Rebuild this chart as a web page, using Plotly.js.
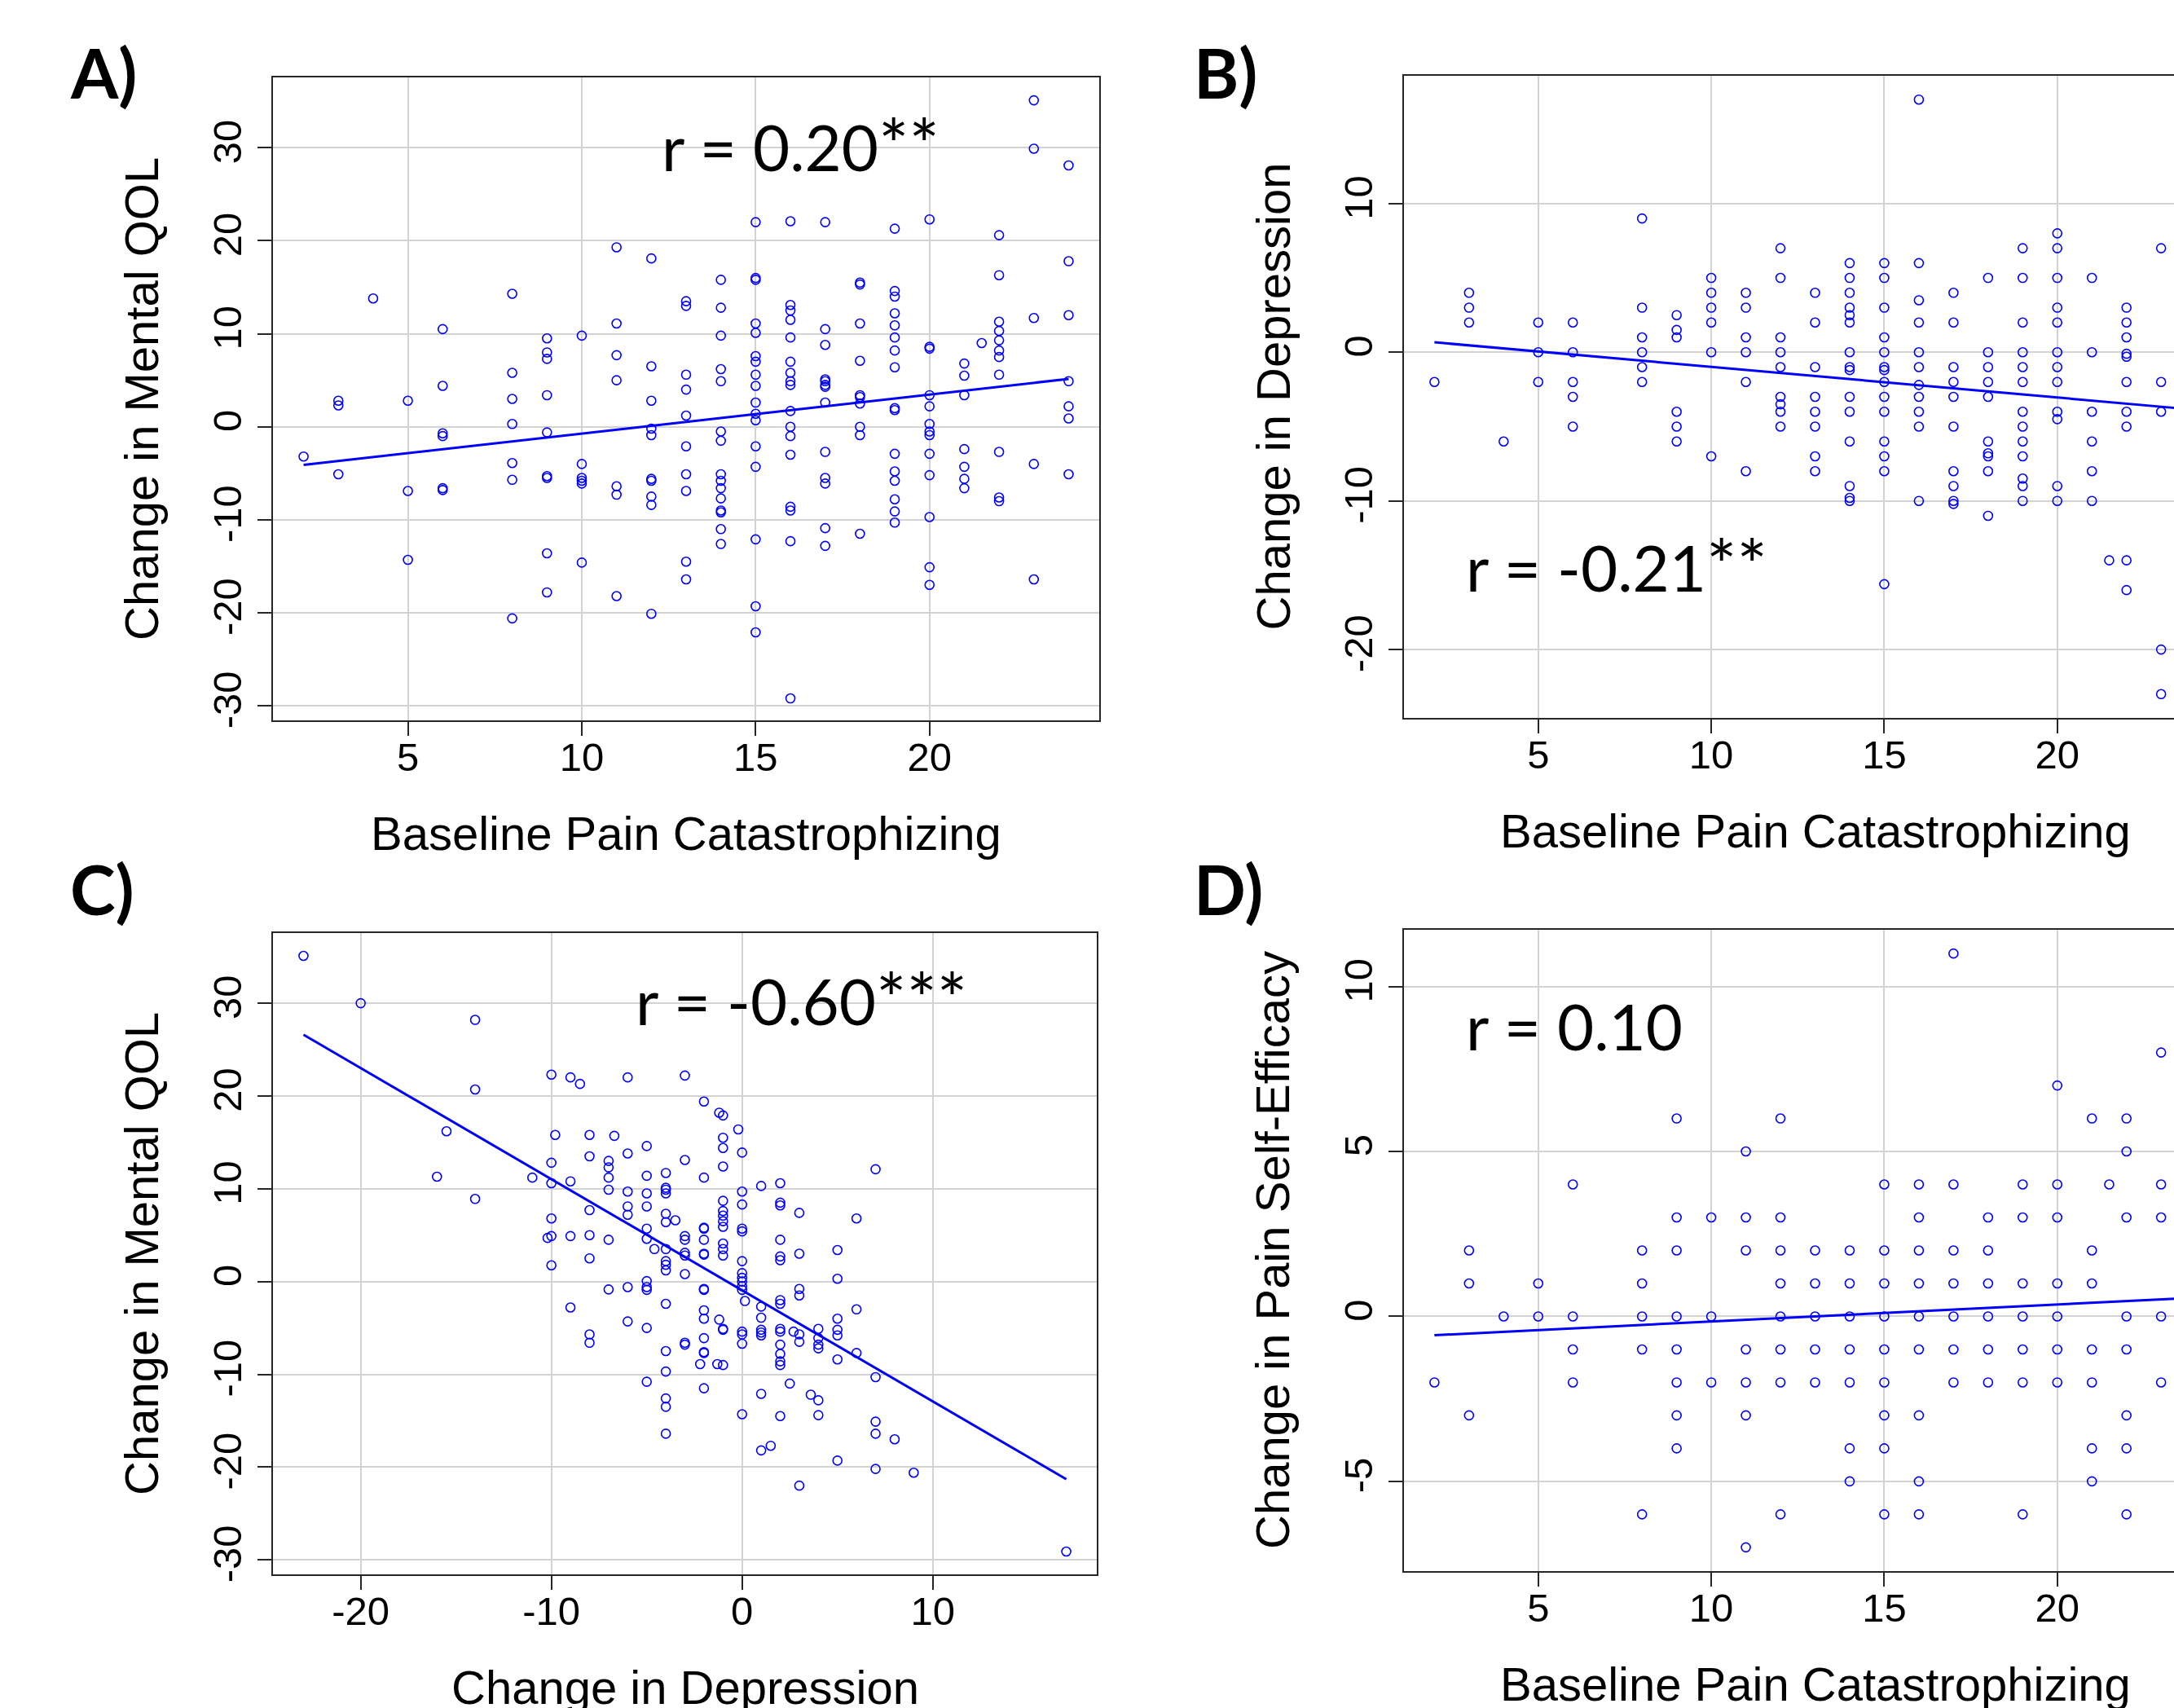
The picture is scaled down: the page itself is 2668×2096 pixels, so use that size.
<!DOCTYPE html>
<html>
<head>
<meta charset="utf-8">
<script src="https://cdn.plot.ly/plotly-3.0.1.min.js"></script>
<style>
  html, body { margin: 0; padding: 0; overflow: hidden; background: #ffffff; }
  #chart { position: absolute; left: 0; top: 0; }
</style>
</head>
<body>
<div id="chart"></div>
<script>
// ---------------- DATA ----------------
// Panel A: Baseline Pain Catastrophizing (x levels) vs Change in Mental QOL
const pcsLevelsA = [2,3,4,5,6,8,9,10,11,12,13,14,15,16,17,18,19,20,21,21.5,22,23,24];
const mentalQolA = [
  [-3.2],
  [2.8,2.3,-5.1],
  [13.8],
  [2.8,-6.9,-14.3],
  [10.5,4.4,-0.7,-1.0,-6.6,-6.8],
  [14.3,5.8,3.0,0.3,-3.9,-5.7,-20.6],
  [9.5,8.0,7.3,3.4,-0.6,-5.3,-5.5,-13.6,-17.8],
  [9.8,-4.0,-5.5,-5.8,-6.1,-14.6],
  [19.3,11.1,7.7,5.0,-6.4,-7.3,-18.2],
  [18.1,6.5,2.8,-0.2,-0.9,-5.6,-5.8,-7.5,-8.4,-20.1],
  [13.5,13.0,5.6,4.0,1.2,-2.1,-5.1,-6.9,-14.5,-16.4],
  [15.8,12.8,9.8,6.2,4.9,-0.5,-1.5,-5.1,-5.8,-6.6,-7.7,-9.0,-9.2,-11.0,-12.6],
  [22.0,16.0,15.8,11.1,10.1,7.6,7.0,5.6,4.4,2.6,1.4,0.7,-2.1,-4.3,-12.1,-19.3,-22.1],
  [22.1,13.1,12.5,11.5,9.6,7.0,5.8,4.9,4.5,1.7,0.0,-1.0,-3.0,-8.6,-9.0,-12.3,-29.2],
  [22.0,10.5,8.8,5.1,4.9,4.5,4.3,2.6,-2.7,-5.5,-6.1,-10.9,-12.8],
  [15.5,15.3,11.1,7.1,3.4,3.2,2.5,0.0,-0.9,-11.5],
  [21.3,14.6,14.0,12.2,10.9,9.6,8.2,6.4,2.0,1.8,-2.9,-4.8,-5.8,-7.8,-9.1,-10.3],
  [22.3,8.6,8.4,3.4,2.2,0.3,-0.5,-0.9,-2.9,-5.2,-9.7,-15.1,-17.0],
  [6.8,5.5,3.4,-2.4,-4.3,-5.6,-6.6],
  [9.0],
  [20.6,16.3,11.3,10.3,9.3,8.2,7.5,5.6,-2.7,-7.6,-8.0],
  [35.1,29.9,11.7,-4.0,-16.4],
  [28.1,17.8,12.0,4.9,2.2,0.9,-5.1]
];
const fitAx = [2, 24];
const fitAy = [-4.1, 5.15];

// Panel B: Baseline Pain Catastrophizing vs Change in Depression
const pcsLevelsB = [2,3,4,5,6,8,9,10,11,12,13,14,15,16,17,18,19,20,21,21.5,22,23];
const depressionB = [
  [-2],
  [4,3,2],
  [-6],
  [2,0,-2],
  [2,0,-2,-3,-5],
  [9,3,1,0,-1,-2],
  [2.5,1.5,1,-4,-5,-6],
  [5,4,3,2,0,-7],
  [4,3,1,0,-2,-8],
  [7,5,1,0,-1,-3,-3.5,-4,-5],
  [4,2,-1,-3,-4,-5,-7,-8],
  [6,5,4,3,2.5,2,0,-1,-1.2,-3,-4,-6,-9,-9.8,-10],
  [6,5,3,1,0,-1,-1.2,-2,-3,-4,-6,-7,-8,-15.6],
  [17,6,3.5,2,0,-1,-2.2,-3,-4,-5,-10],
  [4,2,-1,-2,-3,-5,-8,-9,-10,-10.2],
  [5,0,-1,-2,-3,-6,-6.8,-7,-8,-11],
  [7,5,2,0,-1,-2,-4,-5,-6,-7,-8.5,-9,-10],
  [8,7,5,3,2,0,-1,-2,-4,-4.5,-9,-10],
  [5,0,-4,-6,-8,-10],
  [-14],
  [3,2,1,-0.1,-0.3,-2,-4,-5,-14,-16],
  [7,-2,-4,-20,-23]
];
const fitBx = [2, 24];
const fitBy = [0.67, -3.87];

// Panel C: Change in Depression (x levels) vs Change in Mental QOL
const depLevelsC = [-23,-20,-16,-15.5,-14,-11,-10.2,-10,-9.8,-9,-8.5,-8,-7,-6.7,-6,-5,-4.6,-4,-3.5,-3,-2.2,-2,-1.3,-1.2,-1,-0.2,0,0.15,1,1.5,2,2.5,2.7,3,3.6,4,5,6,7,8,9,17];
const mentalQolC = [
  [35.1],
  [30.0],
  [11.3],
  [16.2],
  [28.2,20.7,8.9],
  [11.2],
  [4.7],
  [22.3,12.8,10.6,6.8,4.9,1.75],
  [15.8],
  [22.0,10.8,4.9,-2.8],
  [21.3],
  [15.8,13.5,7.7,5.0,2.5,-5.7,-6.6],
  [13.0,12.3,11.2,9.9,4.5,-0.85],
  [15.7],
  [22.0,13.8,9.7,8.1,7.2,-0.6,-4.3],
  [14.6,11.4,9.5,8.1,5.7,4.6,0.05,-0.6,-0.9,-5.0,-10.8],
  [3.5],
  [11.7,10.1,9.9,9.5,7.3,6.4,3.5,2.2,1.8,1.2,-2.4,-7.5,-9.7,-12.6,-13.5,-16.4],
  [6.6],
  [22.2,13.1,4.9,4.5,3.1,2.8,0.8,-6.6,-6.8],
  [-8.9],
  [19.4,11.2,5.8,5.7,4.5,3.0,2.9,-0.8,-0.9,-3.1,-4.0,-6.1,-7.6,-7.7,-11.5],
  [-8.9],
  [18.2,-4.1],
  [17.9,15.5,14.4,12.4,8.7,7.6,7.1,6.5,5.9,4.1,3.5,2.8,-5.1,-5.2,-9.0],
  [16.4],
  [13.9,9.7,8.3,5.7,5.4,2.2,0.9,0.4,0,-0.5,-0.9,-5.4,-5.7,-6.7,-14.3],
  [-2.1],
  [10.3,-2.7,-3.9,-5.2,-5.5,-5.8,-12.1,-18.2],
  [-17.7],
  [10.6,8.5,8.2,4.5,2.7,2.3,-2.0,-2.4,-5.1,-5.4,-6.8,-7.8,-8.6,-9.0,-14.5],
  [-11.0],
  [-5.4],
  [7.4,3.0,-0.8,-1.5,-5.7,-6.5,-22.0],
  [-12.2],
  [-5.1,-6.1,-6.8,-7.2,-12.8,-14.4],
  [3.4,0.3,-4.0,-5.2,-5.8,-8.4,-19.3],
  [6.8,-3.0,-7.7],
  [12.1,-10.3,-15.1,-16.4,-20.2],
  [-17.0],
  [-20.6],
  [-29.1]
];
const fitCx = [-23, 17];
const fitCy = [26.6, -21.3];

// Panel D: Baseline Pain Catastrophizing vs Change in Pain Self-Efficacy
const pcsLevelsD = [2,3,4,5,6,8,9,10,11,12,13,14,15,16,17,18,19,20,21,21.5,22,23];
const selfEfficacyD = [
  [-2],
  [2,1,-3],
  [0],
  [1,0],
  [4,0,-1,-2],
  [2,1,0,-1,-6],
  [6,3,2,0,-1,-2,-3,-4],
  [3,0,-2],
  [5,3,2,-1,-2,-3,-7],
  [6,3,2,1,0,-1,-2,-6],
  [2,1,0,-1,-2],
  [2,1,0,-1,-2,-4,-5],
  [4,2,1,0,-1,-2,-3,-4,-6],
  [4,3,2,1,0,-1,-3,-5,-6],
  [11,4,2,1,0,-1,-2],
  [3,2,1,0,-1,-2],
  [4,3,1,0,-1,-2,-6],
  [7,4,3,1,0,-1,-2],
  [6,2,1,-1,-2,-4,-5],
  [4],
  [6,5,3,0,-1,-3,-4,-6],
  [8,4,3,0,-2]
];
const fitDx = [2, 24];
const fitDy = [-0.57, 0.57];

// Tick values / labels
const pcsTicks = [5, 10, 15, 20];
const pcsTickText = ['5', '10', '15', '20'];
const qolTicks = [-30, -20, -10, 0, 10, 20, 30];
const qolTickText = ['-30', '-20', '-10', '0', '10', '20', '30'];
const depTicksY = [-20, -10, 0, 10];
const depTickTextY = ['-20', '-10', '0', '10'];
const depTicksX = [-20, -10, 0, 10];
const depTickTextX = ['-20', '-10', '0', '10'];
const seTicks = [-5, 0, 5, 10];
const seTickText = ['-5', '0', '5', '10'];

const rLabels = ['r = 0.20', 'r = -0.21', 'r = -0.60', 'r = 0.10'];
const rStars = ['**', '**', '***', ''];
const panelLetters = ['A)', 'B)', 'C)', 'D)'];

// ---------------- BUILD ----------------
const W = 2760, H = 2096;
const px = v => v / W;
const py = v => 1 - v / H;

function expand(levels, groups) {
  const xs = [], ys = [];
  levels.forEach((lv, i) => groups[i].forEach(v => { xs.push(lv); ys.push(v); }));
  return { xs, ys };
}

const A = expand(pcsLevelsA, mentalQolA);
const B = expand(pcsLevelsB, depressionB);
const C = expand(depLevelsC, mentalQolC);
const D = expand(pcsLevelsD, selfEfficacyD);

const BLUE = 'rgb(0,0,255)';
const marker = { symbol: 'circle-open', size: 11, color: BLUE, line: { width: 1.6, color: BLUE } };
const fitLine = { color: BLUE, width: 3 };

function pts(d, xa, ya) {
  return { type: 'scatter', mode: 'markers', x: d.xs, y: d.ys, xaxis: xa, yaxis: ya,
           marker: marker, hoverinfo: 'skip', showlegend: false, cliponaxis: true };
}
function fit(xs, ys, xa, ya) {
  return { type: 'scatter', mode: 'lines', x: xs, y: ys, xaxis: xa, yaxis: ya,
           line: fitLine, hoverinfo: 'skip', showlegend: false };
}

const traces = [
  pts(A, 'x', 'y'), fit(fitAx, fitAy, 'x', 'y'),
  pts(B, 'x2', 'y2'), fit(fitBx, fitBy, 'x2', 'y2'),
  pts(C, 'x3', 'y3'), fit(fitCx, fitCy, 'x3', 'y3'),
  pts(D, 'x4', 'y4'), fit(fitDx, fitDy, 'x4', 'y4')
];

const TICKFONT = { family: 'Liberation Sans, Arial, sans-serif', size: 49, color: '#000' };
const TITLEFONT = { family: 'Liberation Sans, Arial, sans-serif', size: 58, color: '#000' };
const RFONT = { family: 'Lato, sans-serif', size: 78, color: '#000' };
const LETTERFONT = { family: 'Lato, sans-serif', size: 84, color: '#000', weight: 700 };

function axis(domain, range, tickvals, ticktext, anchor, isY) {
  const a = {
    domain: domain, range: range, anchor: anchor,
    tickmode: 'array', tickvals: tickvals, ticktext: ticktext,
    showgrid: true, gridcolor: '#d3d3d3', gridwidth: 2,
    zeroline: false, showline: true, mirror: true,
    linecolor: '#262626', linewidth: 2,
    ticks: 'outside', ticklen: 17, tickwidth: 2, tickcolor: '#262626',
    tickfont: TICKFONT, tickangle: isY ? -90 : 0,
    fixedrange: true
  };
  if (!isY) a.ticklabelstandoff = -16;
  return a;
}

// plot areas in pixels: [left, right, top, bottom]
const boxA = [335, 1349, 95, 884];
const boxB = [1723, 2732, 93, 881];
const boxC = [335, 1346, 1145, 1932];
const boxD = [1723, 2732, 1141, 1928];
const dx = b => [px(b[0]), px(b[1])];
const dy = b => [py(b[3]), py(b[2])];

const layout = {
  width: W, height: H,
  margin: { l: 0, r: 0, t: 0, b: 0, pad: 0 },
  paper_bgcolor: '#ffffff', plot_bgcolor: '#ffffff',
  showlegend: false,
  xaxis:  axis(dx(boxA), [1.12, 24.88], pcsTicks, pcsTickText, 'y', false),
  yaxis:  axis(dy(boxA), [-31.56, 37.56], qolTicks, qolTickText, 'x', true),
  xaxis2: axis(dx(boxB), [1.12, 24.88], pcsTicks, pcsTickText, 'y2', false),
  yaxis2: axis(dy(boxB), [-24.6, 18.6], depTicksY, depTickTextY, 'x2', true),
  xaxis3: axis(dx(boxC), [-24.6, 18.6], depTicksX, depTickTextX, 'y3', false),
  yaxis3: axis(dy(boxC), [-31.56, 37.56], qolTicks, qolTickText, 'x3', true),
  xaxis4: axis(dx(boxD), [1.12, 24.88], pcsTicks, pcsTickText, 'y4', false),
  yaxis4: axis(dy(boxD), [-7.72, 11.72], seTicks, seTickText, 'x4', true),
  annotations: []
};

function ann(text, x, y, font, xanchor, angle) {
  return { text: text, xref: 'paper', yref: 'paper', x: px(x), y: py(y),
           xanchor: xanchor, yanchor: 'middle', showarrow: false, font: font,
           textangle: angle || 0 };
}

// panel letters
layout.annotations.push(ann(panelLetters[0], 84, 88, LETTERFONT, 'left'));
layout.annotations.push(ann(panelLetters[1], 1463, 88, LETTERFONT, 'left'));
layout.annotations.push(ann(panelLetters[2], 84, 1090, LETTERFONT, 'left'));
layout.annotations.push(ann(panelLetters[3], 1463, 1090, LETTERFONT, 'left'));

// correlation labels (asterisks drawn a little larger, as in the original)
function rText(i) {
  return rLabels[i] + (rStars[i] ? '<span style="font-size:88px">' + rStars[i] + '</span>' : '');
}
layout.annotations.push(ann(rText(0), 810, 176, RFONT, 'left'));
layout.annotations.push(ann(rText(1), 1797, 692, RFONT, 'left'));
layout.annotations.push(ann(rText(2), 778, 1224, RFONT, 'left'));
layout.annotations.push(ann(rText(3), 1797, 1259, RFONT, 'left'));

// axis titles
const xTitleOff = 138.5, yTitleOff = 161.5;
function titles(box, xt, yt) {
  layout.annotations.push(ann(xt, (box[0] + box[1]) / 2, box[3] + xTitleOff, TITLEFONT, 'center'));
  layout.annotations.push(ann(yt, box[0] - yTitleOff, (box[2] + box[3]) / 2, TITLEFONT, 'center', -90));
}
titles(boxA, 'Baseline Pain Catastrophizing', 'Change in Mental QOL');
titles(boxB, 'Baseline Pain Catastrophizing', 'Change in Depression');
titles(boxC, 'Change in Depression', 'Change in Mental QOL');
titles(boxD, 'Baseline Pain Catastrophizing', 'Change in Pain Self-Efficacy');

Plotly.newPlot('chart', traces, layout, { displayModeBar: false, staticPlot: true });
</script>
</body>
</html>
